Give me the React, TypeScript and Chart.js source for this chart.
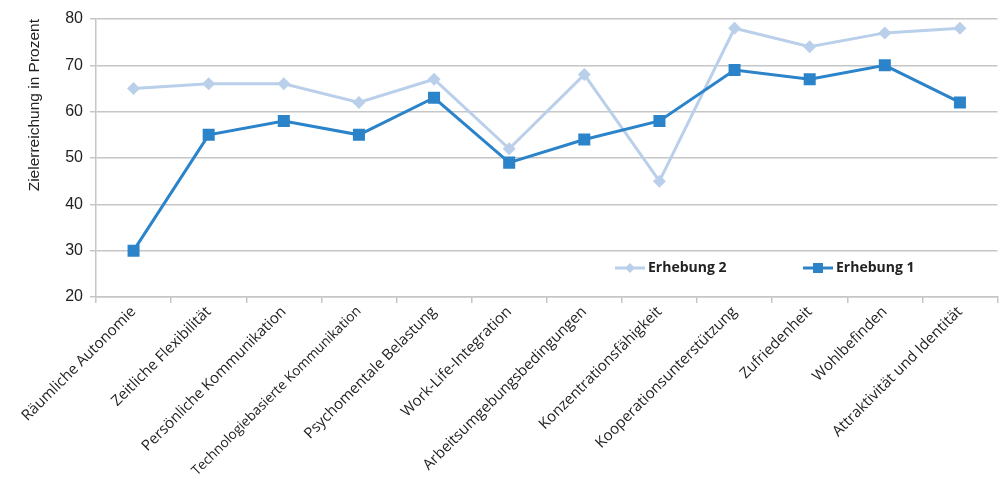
import { useEffect, useRef } from 'react';
import { Chart, registerables } from 'chart.js';

Chart.register(...registerables);

const categories = [
  'Räumliche Autonomie',
  'Zeitliche Flexibilität',
  'Persönliche Kommunikation',
  'Technologiebasierte Kommunikation',
  'Psychomentale Belastung',
  'Work-Life-Integration',
  'Arbeitsumgebungsbedingungen',
  'Konzentrationsfähigkeit',
  'Kooperationsunterstützung',
  'Zufriedenheit',
  'Wohlbefinden',
  'Attraktivität und Identität',
];
const erhebung2 = [65, 66, 66, 62, 67, 52, 68, 45, 78, 74, 77, 78];
const erhebung1 = [30, 55, 58, 55, 63, 49, 54, 58, 69, 67, 70, 62];
const yTicks = [20, 30, 40, 50, 60, 70, 80];
const yTitle = 'Zielerreichung in Prozent';

const DARK = '#2b83c9';
const LIGHT = '#b9cfea';
const GRID = '#c6c6c6';

const legendPlugin = {
  id: 'insideLegend',
  afterDraw(chart: any) {
    const ctx = chart.ctx;
    const order = [1, 0];
    const y = 268;
    let x = 615;
    ctx.save();
    order.forEach((di) => {
      const ds = chart.data.datasets[di];
      ctx.strokeStyle = ds.borderColor;
      ctx.lineWidth = 3;
      ctx.beginPath();
      ctx.moveTo(x, y);
      ctx.lineTo(x + 30, y);
      ctx.stroke();
      ctx.fillStyle = ds.borderColor;
      ctx.beginPath();
      if (ds.pointStyle === 'rect') {
        ctx.rect(x + 15 - 5, y - 5, 10, 10);
      } else {
        ctx.moveTo(x + 15, y - 5);
        ctx.lineTo(x + 20, y);
        ctx.lineTo(x + 15, y + 5);
        ctx.lineTo(x + 10, y);
        ctx.closePath();
      }
      ctx.fill();
      ctx.fillStyle = '#222';
      ctx.font = 'bold 14px "Open Sans"';
      ctx.textBaseline = 'middle';
      ctx.textAlign = 'left';
      ctx.fillText(ds.label, x + 33, y);
      x += 188;
    });
    ctx.restore();
  },
};

export default function App() {
  const ref = useRef<HTMLCanvasElement | null>(null);
  useEffect(() => {
    if (!ref.current) return;
    const chart = new Chart(ref.current, {
      type: 'line',
      data: {
        labels: categories,
        datasets: [
          {
            label: 'Erhebung 1',
            data: erhebung1,
            borderColor: DARK,
            backgroundColor: DARK,
            borderWidth: 3,
            pointStyle: 'rect',
            pointRadius: 8.5,
            pointHoverRadius: 8.5,
            pointBorderWidth: 0,
            tension: 0,
          },
          {
            label: 'Erhebung 2',
            data: erhebung2,
            borderColor: LIGHT,
            backgroundColor: LIGHT,
            borderWidth: 3,
            pointStyle: 'rectRot',
            pointRadius: 6.5,
            pointHoverRadius: 6.5,
            pointBorderWidth: 0,
            tension: 0,
          },
        ],
      },
      options: {
        animation: false,
        responsive: true,
        maintainAspectRatio: false,
        layout: { padding: { top: 19, right: 5, left: 0, bottom: 0 } },
        plugins: {
          legend: { display: false },
          tooltip: { enabled: false },
        },
        scales: {
          x: {
            type: 'category',
            offset: true,
            grid: {
              offset: true,
              drawOnChartArea: false,
              drawTicks: true,
              tickLength: 6,
              color: GRID,
              lineWidth: 1.5,
            },
            border: { display: true, color: GRID, width: 1.5 },
            ticks: {
              minRotation: 45,
              maxRotation: 45,
              autoSkip: false,
              padding: 0,
              color: '#222',
              font: (c: any) => ({
                family: '"Open Sans"',
                size: categories[c.index] && categories[c.index].length > 30 ? 13.6 : 15,
              }),
            },
            afterFit(scale: any) {
              scale.height = 187;
            },
          },
          y: {
            min: 20,
            max: 80,
            afterBuildTicks(scale: any) {
              scale.ticks = yTicks.map((v) => ({ value: v }));
            },
            grid: {
              color: GRID,
              lineWidth: 1.5,
              tickLength: 6,
            },
            border: { display: true, color: GRID, width: 1.5 },
            ticks: {
              padding: 7,
              color: '#222',
              font: { family: '"Liberation Sans"', size: 16 },
            },
            title: {
              display: true,
              text: yTitle,
              align: 'end',
              color: '#222',
              font: { family: '"Liberation Sans"', size: 15.5 },
              padding: { top: 25, bottom: 0 },
            },
            afterFit(scale: any) {
              scale.width = 96;
            },
          },
        },
      },
      plugins: [legendPlugin],
    });
    return () => chart.destroy();
  }, []);
  return (
    <div style={{ position: 'absolute', left: 0, top: 0, width: 1006, height: 484 }}>
      <canvas ref={ref} />
    </div>
  );
}
